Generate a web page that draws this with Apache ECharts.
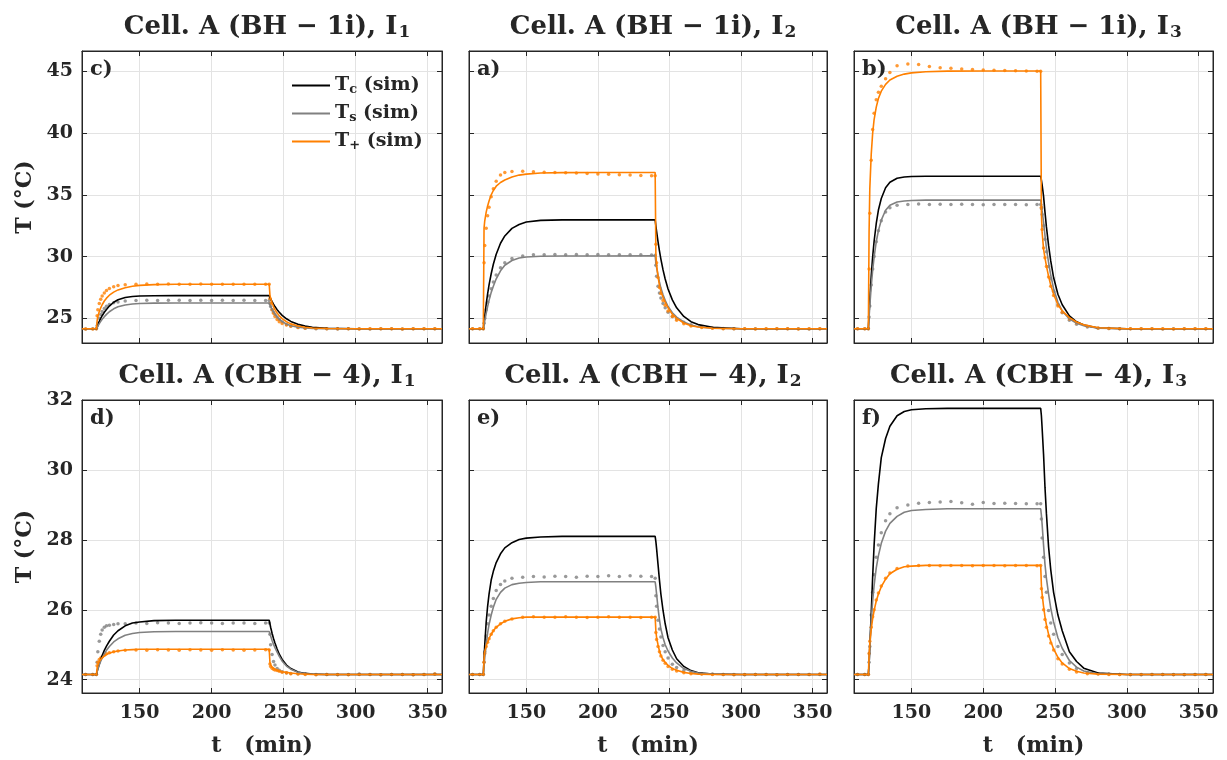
<!DOCTYPE html>
<html>
<head>
<meta charset="utf-8">
<script src="https://cdn.jsdelivr.net/npm/echarts@6/dist/echarts.min.js"></script>
<style>html,body{margin:0;padding:0;background:#fff}#c{width:1227px;height:760px}</style>
</head>
<body>
<div id="c"></div>
<script>
// ---------------- DATA ----------------
var tSim = [110,120,120.5,121,122,123,124,125.5,127,129,132,135,140,145,150,160,175,200,240,240.5,241,242,243,244,245.5,247,249,252,255,260,265,270,280,300,360];
var tExp = [112.5,117.5,120,120.5,121,122,123,124,125.5,127,129,132,135,140,147.5,155,162.5,170,177.5,185,192.5,200,207.5,215,222.5,230,237.5,240,240.5,241,242,243,244,245.5,247,249,252,255,260,265,272.5,280,287.5,295,302.5,310,317.5,325,332.5,340,347.5,355];
var xTicks = [150,200,250,300,350];
var yTicksTop = [25,30,35,40,45];
var yTicksBottom = [24,26,28,30,32];
var panelTitles = ['BH − 1i','BH − 1i','BH − 1i','CBH − 4','CBH − 4','CBH − 4'];
var panelCurrents = ['1','2','3','1','2','3'];
var panelLetters = ['c)','a)','b)','d)','e)','f)'];
var seriesNames = ['Tc (sim)','Ts (sim)','T+ (sim)'];

// c) BH-1i I1
var c_Tc = [24.15,24.15,24.31,24.47,24.75,25.0,25.21,25.49,25.72,25.99,26.3,26.5,26.69,26.77,26.81,26.83,26.84,26.84,26.84,26.71,26.58,26.35,26.14,25.95,25.7,25.49,25.24,24.96,24.75,24.51,24.37,24.28,24.2,24.15,24.15];
var c_Ts = [24.15,24.15,24.26,24.37,24.57,24.75,24.92,25.13,25.32,25.53,25.77,25.93,26.08,26.16,26.2,26.23,26.24,26.24,26.24,26.1,25.96,25.73,25.52,25.34,25.11,24.93,24.74,24.53,24.4,24.27,24.21,24.18,24.16,24.15,24.15];
var c_Tp = [24.15,24.15,24.8,25.15,25.55,25.85,26.1,26.4,26.63,26.87,27.12,27.3,27.48,27.6,27.67,27.73,27.76,27.76,27.76,26.9,26.6,26.25,25.95,25.7,25.42,25.2,24.97,24.72,24.55,24.37,24.27,24.21,24.17,24.15,24.15];
var c_TsExp = [24.14,24.15,24.15, 24.4,24.6,25.0,25.3,25.55,25.8,25.98,26.12,26.25,26.33,26.4, 26.45,26.46,26.44,26.46,26.47,26.45,26.46,26.44,26.46,26.45,26.46,26.44,26.45,26.45, 26.2,25.95,25.7,25.5,25.3,25.1,24.9,24.7,24.5,24.38,24.26,24.2, 24.16,24.15,24.14,24.15,24.15,24.14,24.15,24.15,24.14,24.15,24.15,24.15];
var c_TpExp = [24.13,24.14,24.15, 25.2,25.7,26.2,26.55,26.8,27.05,27.25,27.42,27.55,27.65,27.72, 27.76,27.77,27.76,27.77,27.76,27.76,27.77,27.76,27.75,27.76,27.76,27.75,27.76,27.76, 26.6,26.2,25.7,25.4,25.15,24.9,24.72,24.58,24.45,24.36,24.26,24.2, 24.17,24.16,24.15,24.15,24.14,24.15,24.15,24.15,24.14,24.15,24.15,24.15];

// a) BH-1i I2
var a_Tc = [24.15,24.15,24.7,25.21,26.14,26.97,27.7,28.61,29.38,30.19,31.08,31.67,32.28,32.6,32.8,32.93,32.97,32.97,32.97,32.49,32.04,31.21,30.47,29.8,28.92,28.18,27.38,26.49,25.85,25.15,24.73,24.49,24.27,24.16,24.15];
var a_Ts = [24.15,24.15,24.45,24.8,25.4,25.95,26.45,27.1,27.6,28.2,28.85,29.3,29.68,29.88,29.96,30.03,30.05,30.05,30.06,29.5,29.1,28.5,27.95,27.45,26.9,26.45,25.95,25.45,25.1,24.7,24.45,24.32,24.2,24.16,24.15];
var a_Tp = [24.15,24.15,32.3,32.9,33.6,34.1,34.5,35.0,35.35,35.7,36.0,36.2,36.45,36.6,36.68,36.77,36.8,36.81,36.81,30.2,29.3,28.4,27.65,27.2,26.7,26.3,25.85,25.32,25.0,24.62,24.4,24.3,24.2,24.16,24.15];
var a_TsExp = [24.15,24.15,24.15, 24.6,25.0,25.7,26.3,26.8,27.4,27.95,28.5,29.1,29.5,29.85, 30.05,30.15,30.14,30.16,30.15,30.17,30.15,30.16,30.15,30.14,30.15,30.15,30.13,30.1, 29.3,28.4,27.6,27.05,26.65,26.2,25.85,25.5,25.15,24.95,24.68,24.48, 24.3,24.22,24.18,24.16,24.15,24.15,24.14,24.15,24.15,24.15,24.14,24.15];
var a_TpExp = [24.15,24.15,24.15, 29.5,30.9,32.3,33.3,34.0,34.85,35.5,36.1,36.6,36.8,36.9, 36.92,36.86,36.82,36.81,36.79,36.76,36.73,36.69,36.67,36.63,36.6,36.56,36.55,36.55, 31.0,29.5,28.3,27.5,27.0,26.45,26.05,25.6,25.15,24.85,24.55,24.38, 24.25,24.19,24.16,24.15,24.15,24.14,24.15,24.15,24.15,24.14,24.15,24.15];

// b) BH-1i I3
var b_Tc = [24.15,24.15,25.4,26.52,28.44,30.0,31.24,32.68,33.77,34.7,35.58,36.02,36.34,36.45,36.49,36.51,36.51,36.51,36.51,36.2,35.8,34.9,33.6,32.4,30.9,29.65,28.3,26.95,26.1,25.2,24.72,24.45,24.22,24.16,24.15];
var b_Ts = [24.15,24.15,25.1,26.0,27.6,28.9,29.95,31.2,32.1,32.95,33.75,34.15,34.42,34.5,34.54,34.57,34.57,34.57,34.57,34.2,33.7,32.8,31.7,30.7,29.5,28.5,27.4,26.3,25.6,24.95,24.6,24.4,24.2,24.16,24.15];
var b_Tp = [24.15,24.15,32.0,35.5,38.3,40.0,41.1,42.1,42.8,43.4,43.95,44.3,44.6,44.78,44.88,44.97,45.02,45.03,45.03,33.5,32.0,30.6,29.9,29.25,28.4,27.7,26.95,26.1,25.6,25.05,24.7,24.47,24.23,24.16,24.15];
var b_TsExp = [24.15,24.15,24.15, 25.1,26.0,27.7,29.0,30.0,31.2,32.1,32.9,33.6,33.95,34.15, 34.22,34.25,34.22,34.24,34.21,34.23,34.22,34.2,34.22,34.21,34.22,34.2,34.22,34.22, 33.9,33.4,32.5,31.4,30.4,29.2,28.2,27.2,26.1,25.45,24.85,24.52, 24.3,24.2,24.17,24.16,24.15,24.15,24.15,24.14,24.15,24.15,24.15,24.15];
var b_TpExp = [24.15,24.15,24.15, 29.0,33.5,37.8,40.3,41.6,42.7,43.3,43.8,44.4,44.9,45.45, 45.6,45.55,45.4,45.3,45.25,45.2,45.15,45.12,45.1,45.08,45.05,45.03,45.02,45.0, 34.0,32.2,30.7,29.9,29.2,28.35,27.6,26.85,26.0,25.5,24.95,24.62, 24.35,24.22,24.18,24.16,24.15,24.15,24.15,24.15,24.14,24.15,24.15,24.15];

// d) CBH-4 I1
var d_Tc = [24.15,24.15,24.24,24.31,24.45,24.58,24.69,24.84,24.96,25.1,25.28,25.4,25.54,25.62,25.65,25.69,25.7,25.7,25.7,25.6,25.5,25.33,25.18,25.05,24.88,24.73,24.58,24.42,24.32,24.22,24.18,24.16,24.15,24.15,24.15];
var d_Ts = [24.15,24.15,24.23,24.3,24.42,24.53,24.62,24.74,24.84,24.95,25.08,25.17,25.27,25.32,25.35,25.37,25.38,25.38,25.38,25.32,25.25,25.12,25.01,24.92,24.79,24.67,24.53,24.39,24.3,24.21,24.17,24.16,24.15,24.15,24.15];
var d_Tp = [24.15,24.15,24.33,24.42,24.52,24.58,24.63,24.68,24.72,24.76,24.8,24.82,24.85,24.86,24.87,24.87,24.87,24.87,24.87,24.5,24.42,24.36,24.32,24.3,24.27,24.25,24.23,24.21,24.19,24.17,24.16,24.15,24.15,24.15,24.15];
var d_TsExp = [24.15,24.15,24.15, 24.5,24.8,25.1,25.3,25.42,25.5,25.54,25.56,25.58,25.6,25.6, 25.62,25.61,25.63,25.62,25.61,25.62,25.63,25.62,25.61,25.62,25.62,25.61,25.62,25.62, 25.3,25.0,24.72,24.52,24.42,24.32,24.27,24.23,24.2,24.18,24.17,24.16, 24.15,24.15,24.14,24.15,24.16,24.15,24.14,24.15,24.15,24.14,24.15,24.16];
var d_TpExp = [24.15,24.15,24.15, 24.4,24.5,24.58,24.62,24.66,24.7,24.74,24.77,24.8,24.82,24.84, 24.85,24.84,24.86,24.85,24.84,24.86,24.85,24.84,24.86,24.85,24.84,24.85,24.86,24.85, 24.45,24.38,24.33,24.3,24.28,24.26,24.24,24.21,24.19,24.17,24.16,24.15, 24.14,24.15,24.15,24.14,24.15,24.15,24.14,24.15,24.15,24.14,24.15,24.16];

// e) CBH-4 I2
var e_Tc = [24.15,24.15,24.6,25.0,25.65,26.1,26.45,26.85,27.1,27.35,27.6,27.77,27.92,28.01,28.05,28.08,28.1,28.1,28.1,27.95,27.75,27.3,26.85,26.45,25.98,25.6,25.2,24.85,24.6,24.38,24.26,24.2,24.16,24.15,24.15];
var e_Ts = [24.15,24.15,24.4,24.63,25.0,25.33,25.58,25.85,26.07,26.3,26.5,26.62,26.72,26.76,26.78,26.8,26.8,26.8,26.8,26.65,26.45,26.05,25.72,25.45,25.2,25.0,24.82,24.62,24.48,24.32,24.24,24.19,24.16,24.15,24.15];
var e_Tp = [24.15,24.15,24.6,24.8,24.97,25.08,25.18,25.3,25.4,25.5,25.6,25.67,25.74,25.77,25.79,25.79,25.79,25.79,25.79,25.4,25.2,25.0,24.82,24.7,24.57,24.5,24.41,24.32,24.27,24.21,24.18,24.16,24.15,24.15,24.15];
var e_TsExp = [24.15,24.15,24.15, 24.5,24.8,25.25,25.6,25.85,26.1,26.32,26.55,26.72,26.82,26.9, 26.93,26.95,26.94,26.96,26.95,26.93,26.96,26.95,26.97,26.95,26.97,26.96,26.95,26.9, 26.4,26.1,25.7,25.45,25.22,24.98,24.8,24.62,24.44,24.35,24.26,24.21, 24.17,24.16,24.15,24.15,24.14,24.15,24.15,24.14,24.15,24.15,24.15,24.15];
var e_TpExp = [24.15,24.15,24.15, 24.5,24.75,24.95,25.07,25.17,25.3,25.4,25.5,25.6,25.67,25.74, 25.79,25.8,25.79,25.79,25.8,25.79,25.78,25.79,25.8,25.79,25.79,25.78,25.79,25.79, 25.35,25.15,24.95,24.8,24.68,24.56,24.47,24.38,24.3,24.25,24.2,24.17, 24.16,24.15,24.15,24.14,24.15,24.15,24.15,24.14,24.15,24.15,24.15,24.16];

// f) CBH-4 I3
var f_Tc = [24.15,24.15,24.45,24.95,25.9,26.95,27.85,28.9,29.6,30.35,30.9,31.25,31.55,31.67,31.72,31.75,31.76,31.76,31.76,31.55,31.2,30.45,29.5,28.75,27.8,27.15,26.5,25.85,25.4,24.8,24.52,24.33,24.19,24.15,24.15];
var f_Ts = [24.15,24.15,24.45,24.85,25.7,26.25,26.7,27.2,27.55,27.9,28.25,28.47,28.67,28.79,28.84,28.87,28.89,28.89,28.89,28.7,28.45,27.85,27.3,26.9,26.45,26.05,25.65,25.2,24.9,24.55,24.36,24.25,24.17,24.15,24.15];
var f_Tp = [24.15,24.15,24.7,25.05,25.45,25.75,25.98,26.25,26.45,26.66,26.88,27.03,27.16,27.23,27.25,27.27,27.27,27.27,27.27,26.7,26.45,26.1,25.8,25.57,25.3,25.1,24.88,24.64,24.48,24.32,24.24,24.19,24.16,24.15,24.15];
var f_TsExp = [24.15,24.15,24.15, 24.5,24.95,25.85,26.5,27.0,27.5,27.85,28.2,28.55,28.75,28.92, 29.0,29.05,29.07,29.08,29.1,29.06,29.02,29.07,29.04,29.05,29.04,29.03,29.03,29.03, 28.6,28.05,27.5,26.95,26.5,25.98,25.62,25.3,24.95,24.72,24.48,24.32, 24.2,24.17,24.16,24.15,24.15,24.14,24.15,24.15,24.15,24.14,24.15,24.15];
var f_TpExp = [24.15,24.15,24.15, 24.75,25.1,25.5,25.8,26.0,26.28,26.48,26.68,26.9,27.05,27.18, 27.25,27.27,27.27,27.26,27.27,27.27,27.26,27.27,27.27,27.26,27.27,27.27,27.26,27.27, 26.6,26.35,26.0,25.72,25.5,25.25,25.05,24.85,24.6,24.45,24.3,24.22, 24.17,24.16,24.15,24.15,24.14,24.15,24.15,24.15,24.14,24.15,24.15,24.15];

var panels = [
  {Tc:c_Tc, Ts:c_Ts, Tp:c_Tp, TsExp:c_TsExp, TpExp:c_TpExp},
  {Tc:a_Tc, Ts:a_Ts, Tp:a_Tp, TsExp:a_TsExp, TpExp:a_TpExp},
  {Tc:b_Tc, Ts:b_Ts, Tp:b_Tp, TsExp:b_TsExp, TpExp:b_TpExp},
  {Tc:d_Tc, Ts:d_Ts, Tp:d_Tp, TsExp:d_TsExp, TpExp:d_TpExp},
  {Tc:e_Tc, Ts:e_Ts, Tp:e_Tp, TsExp:e_TsExp, TpExp:e_TpExp},
  {Tc:f_Tc, Ts:f_Ts, Tp:f_Tp, TsExp:f_TsExp, TpExp:f_TpExp}
];

// ---------------- STYLE / LAYOUT ----------------
var FONT = 'DejaVu Serif';
var TXT = '#262626';
var AX = '#262626';
var GRIDC = '#e3e3e3';
var BLACK = '#000000', GRAY = '#808080', ORANGE = '#ff8000';
var lefts = [82, 469, 854];
var widths = [360, 358, 359];
var tops = [51, 400];
var H = [292, 293];

function simData(arr) { return tSim.map(function (t, i) { return [t, arr[i]]; }); }
function expData(arr) { return tExp.map(function (t, i) { return [t, arr[i]]; }); }

var grids = [], xAxes = [], yAxes = [], series = [], titles = [], graphics = [];
for (var p = 0; p < 6; p++) {
  var row = Math.floor(p / 3), col = p % 3;
  grids.push({left: lefts[col], top: tops[row], width: widths[col], height: H[row],
           show: true, borderColor: AX, borderWidth: 1, backgroundColor: 'transparent'});
  var yMin = row === 0 ? 23 : 23.62;
  var yMax = row === 0 ? 46.65 : 32;
  var yt = row === 0 ? yTicksTop : yTicksBottom;
  var showY = col === 0;
  var showX = row === 1;
  xAxes.push({
    type: 'value', gridIndex: p, min: 110, max: 360, position: 'bottom',
    axisLine: {show: true, onZero: false, lineStyle: {color: AX, width: 1}},
    axisTick: {show: true, inside: true, length: 5, customValues: xTicks, lineStyle: {color: AX}},
    axisLabel: {show: showX, customValues: xTicks, margin: 11, color: TXT, fontFamily: FONT, fontWeight: 'bold', fontSize: 19},
    splitLine: {show: true, lineStyle: {color: GRIDC, width: 1}},
    name: showX ? 't   (min)' : '', nameLocation: 'middle', nameGap: 42,
    nameTextStyle: {color: TXT, fontFamily: FONT, fontWeight: 'bold', fontSize: 22}
  });
  xAxes.push({
    type: 'value', gridIndex: p, min: 110, max: 360, position: 'top',
    axisLine: {show: true, onZero: false, lineStyle: {color: AX, width: 1}},
    axisTick: {show: true, inside: true, length: 5, customValues: xTicks, lineStyle: {color: AX}},
    axisLabel: {show: false}, splitLine: {show: false}
  });
  yAxes.push({
    type: 'value', gridIndex: p, min: yMin, max: yMax, position: 'left',
    axisLine: {show: true, onZero: false, lineStyle: {color: AX, width: 1}},
    axisTick: {show: true, inside: true, length: 5, customValues: yt, lineStyle: {color: AX}},
    axisLabel: {show: showY, customValues: yt, margin: 9, color: TXT, fontFamily: FONT, fontWeight: 'bold', fontSize: 19},
    splitLine: {show: true, lineStyle: {color: GRIDC, width: 1}},
    name: showY ? 'T (°C)' : '', nameLocation: 'middle', nameGap: 46, nameRotate: 90,
    nameTextStyle: {color: TXT, fontFamily: FONT, fontWeight: 'bold', fontSize: 22}
  });
  yAxes.push({
    type: 'value', gridIndex: p, min: yMin, max: yMax, position: 'right',
    axisLine: {show: true, onZero: false, lineStyle: {color: AX, width: 1}},
    axisTick: {show: true, inside: true, length: 5, customValues: yt, lineStyle: {color: AX}},
    axisLabel: {show: false}, splitLine: {show: false}
  });
  var d = panels[p];
  var xi = p * 2, yi = p * 2;
  series.push({type: 'scatter', name: 'Ts (exp)', xAxisIndex: xi, yAxisIndex: yi, data: expData(d.TsExp), symbolSize: 3.5,
    itemStyle: {color: GRAY}, silent: true, z: 2});
  series.push({type: 'scatter', name: 'T+ (exp)', xAxisIndex: xi, yAxisIndex: yi, data: expData(d.TpExp), symbolSize: 3.5,
    itemStyle: {color: ORANGE}, silent: true, z: 2});
  var sim = [[d.Tc, BLACK], [d.Ts, GRAY], [d.Tp, ORANGE]];
  for (var s = 0; s < 3; s++) {
    series.push({type: 'line', name: seriesNames[s], xAxisIndex: xi, yAxisIndex: yi, data: simData(sim[s][0]),
      symbol: 'none', smooth: false, lineStyle: {color: sim[s][1], width: 1.6}, itemStyle: {color: sim[s][1]},
      z: 3 + s});
  }
  titles.push({
    text: '{a|Cell. A (' + panelTitles[p] + '), I}{s|' + panelCurrents[p] + '}',
    left: lefts[col] + widths[col] / 2, top: row === 0 ? 6 : 355, textAlign: 'center',
    textStyle: {rich: {
      a: {fontFamily: FONT, fontWeight: 'bold', fontSize: 26, color: TXT, lineHeight: 32},
      s: {fontFamily: FONT, fontWeight: 'bold', fontSize: 17, color: TXT, lineHeight: 32, padding: [12, 0, 0, 1]}
    }}
  });
  graphics.push({type: 'text', left: lefts[col] + 8, top: tops[row] + 8,
    style: {text: panelLetters[p], font: 'bold 21px "DejaVu Serif"', fill: TXT}, z: 100});
}

var option = {
  animation: false,
  backgroundColor: '#ffffff',
  title: titles,
  grid: grids,
  xAxis: xAxes,
  yAxis: yAxes,
  graphic: {elements: graphics},
  legend: {
    show: true,
    data: seriesNames, orient: 'vertical', left: 287, top: 70, itemWidth: 38, itemHeight: 2, itemGap: 7,
    icon: 'path://M0,0L38,0L38,2L0,2Z',
    selectedMode: false, z: 50,
    formatter: function (n) {
      if (n === 'Tc (sim)') return '{b|T}{s|c}{b| (sim)}';
      if (n === 'Ts (sim)') return '{b|T}{s|s}{b| (sim)}';
      return '{b|T}{s|+}{b| (sim)}';
    },
    textStyle: {color: TXT, rich: {
      b: {fontFamily: FONT, fontWeight: 'bold', fontSize: 19, color: TXT, lineHeight: 20},
      s: {fontFamily: FONT, fontWeight: 'bold', fontSize: 13, color: TXT, lineHeight: 20, padding: [8, 0, 0, 0]}
    }}
  },
  series: series
};
var chart = echarts.init(document.getElementById('c'), null, {renderer: 'canvas'});
chart.setOption(option);
</script>
</body>
</html>
